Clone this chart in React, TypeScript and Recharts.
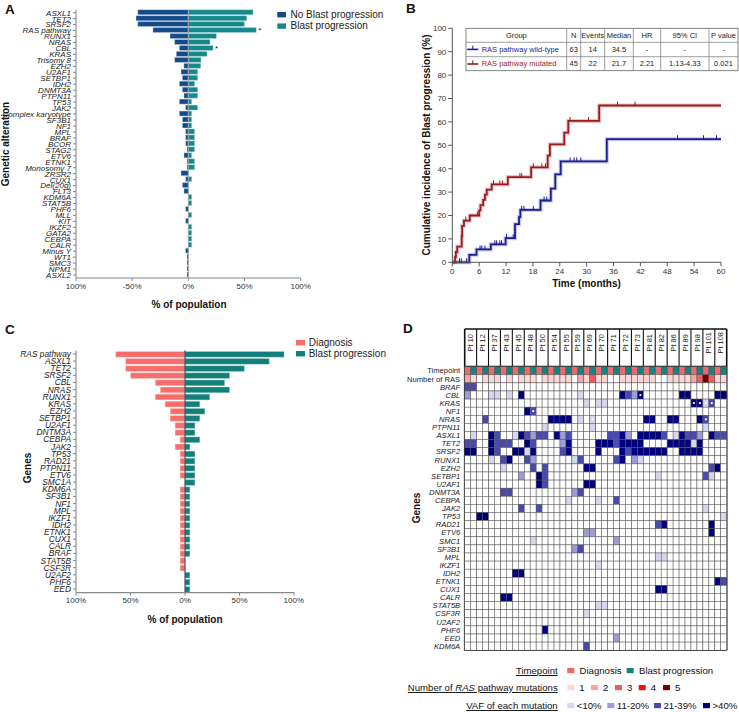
import React from 'react';
import {
  BarChart, Bar, XAxis, YAxis, ReferenceLine, LabelList,
  ComposedChart, Line, Scatter, ScatterChart,
} from 'recharts';

const FONT = '"Liberation Sans", Arial, Helvetica, sans-serif';

// ---------- Panel A: genetic alterations by outcome ----------
const alterationsA = ['ASXL1', 'TET2', 'SRSF2', 'RAS pathway', 'RUNX1', 'NRAS', 'CBL', 'KRAS', 'Trisomy 8', 'EZH2', 'U2AF1', 'SETBP1', 'IDH2', 'DNMT3A', 'PTPN11', 'TP53', 'JAK2', 'Complex karyotype', 'SF3B1', 'NF1', 'MPL', 'BRAF', 'BCOR', 'STAG2', 'ETV6', 'ETNK1', 'Monosomy 7', 'ZRSR2', 'CUX1', 'Del(20q)', 'FLT3', 'KDM6A', 'STAT5B', 'PHF6', 'MLL', 'KIT', 'IKZF2', 'GATA2', 'CEBPA', 'CALR', 'Minus Y', 'WT1', 'SMC3', 'NPM1', 'ASXL2'];
const noBlastPct = [45, 46.6, 45, 31.5, 16.3, 12.2, 8, 10.7, 12.2, 3.9, 6.5, 5.3, 8, 5.3, 3.9, 8, 2.4, 8, 5.3, 5.3, 2.4, 2.4, 2.4, 1.2, 3.9, 1.2, 1.2, 6.5, 2.4, 5.3, 3.9, 0, 0, 2.4, 0, 2.4, 0, 0, 0, 0, 2.4, 1.2, 1.2, 1.2, 1.2];
const blastPct = [57.6, 52, 50, 60.5, 25, 19.3, 22, 16.6, 11.3, 11, 8.3, 8.3, 5.6, 8.3, 8.3, 3, 8.3, 3, 3, 3, 5.6, 5.6, 5.6, 5.6, 3, 5.6, 5.6, 0, 3, 0, 0, 3, 3, 0, 3, 0, 3, 3, 3, 3, 0, 0, 0, 0, 0];
const significantA = ['RAS pathway', 'CBL'];

// ---------- Panel B: cumulative incidence ----------
const wildTypeSteps = [
  [0, 0], [3.8, 3.2], [5.4, 5.5], [8.6, 7.7], [11.9, 10.3], [14.0, 16.3], [14.9, 19.3],
  [15.2, 22.4], [19.7, 26.4], [22.0, 31.5], [23.0, 37.6], [24.2, 43.1], [34.5, 52.6], [60, 52.6],
];
const mutatedSteps = [
  [0, 0], [0.6, 2.2], [0.8, 4.4], [1.1, 6.7], [2.1, 11.1], [2.2, 15.6], [2.6, 17.8], [3.9, 20.0],
  [6.0, 22.2], [6.3, 24.4], [6.9, 26.7], [7.3, 28.9], [7.7, 31.1], [8.8, 33.3], [12.4, 36.4],
  [17.6, 40.6], [21.3, 45.6], [21.8, 50.4], [25.0, 55.4], [25.9, 60.4], [32.8, 67.0], [60, 67.0],
];
const wildTypeCensor = [1.6, 2.0, 3.2, 6.2, 6.6, 7.3, 9.5, 9.9, 10.6, 11.0, 12.1, 13.6, 15.5, 16.0, 18.1, 20.5, 21.1, 26.3, 27.2, 27.8, 28.7, 50.3, 56.1, 59.0];
const mutatedCensor = [3.0, 5.6, 9.2, 10.6, 11.2, 15.1, 15.5, 18.1, 20.0, 20.8, 26.3, 30.4, 36.9, 40.8];
const tableHeader = ['Group', 'N', 'Events', 'Median', 'HR', '95% CI', 'P value'];
const tableWildType = ['RAS pathway wild-type', '63', '14', '34.5', '-', '-', '-'];
const tableMutated = ['RAS pathway mutated', '45', '22', '21.7', '2.21', '1.13-4.33', '0.021'];

// ---------- Panel C: diagnosis vs blast progression ----------
const genesC = ['RAS pathway', 'ASXL1', 'TET2', 'SRSF2', 'CBL', 'NRAS', 'RUNX1', 'KRAS', 'EZH2', 'SETBP1', 'U2AF1', 'DNTM3A', 'CEBPA', 'JAK2', 'TP53', 'RAD21', 'PTPN11', 'ETV6', 'SMC1A', 'KDM6A', 'SF3B1', 'NF1', 'MPL', 'IKZF1', 'IDH2', 'ETNK1', 'CUX1', 'CALR', 'BRAF', 'STAT5B', 'CSF3R', 'U2AF2', 'PHF6', 'EED'];
const diagnosisPct = [63.6, 54.5, 54.5, 50, 27.3, 22.7, 27.3, 18.2, 13.6, 13.6, 9.1, 9.1, 4.5, 9.1, 4.5, 4.5, 4.5, 4.5, 0, 4.5, 4.5, 4.5, 4.5, 4.5, 4.5, 4.5, 4.5, 4.5, 4.5, 4.5, 4.5, 0, 0, 0];
const progressionPct = [90.9, 77.3, 54.5, 40.9, 36.4, 40.9, 22.7, 13.6, 18.2, 13.6, 9.1, 9.1, 13.6, 4.5, 9.1, 9.1, 9.1, 9.1, 9.1, 4.5, 4.5, 4.5, 4.5, 4.5, 4.5, 4.5, 4.5, 4.5, 4.5, 0, 0, 4.5, 4.5, 4.5];

// ---------- Panel D: paired samples heatmap ----------
const patients = ['Pt 10', 'Pt 12', 'Pt 37', 'Pt 43', 'Pt 45', 'Pt 48', 'Pt 50', 'Pt 54', 'Pt 55', 'Pt 59', 'Pt 69', 'Pt 70', 'Pt 71', 'Pt 72', 'Pt 73', 'Pt 81', 'Pt 82', 'Pt 86', 'Pt 89', 'Pt 98', 'Pt 101', 'Pt 108'];
const heatGenes = ['BRAF', 'CBL', 'KRAS', 'NF1', 'NRAS', 'PTPN11', 'ASXL1', 'TET2', 'SRSF2', 'RUNX1', 'EZH2', 'SETBP1', 'U2AF1', 'DNMT3A', 'CEBPA', 'JAK2', 'TP53', 'RAD21', 'ETV6', 'SMC1', 'SF3B1', 'MPL', 'IKZF1', 'IDH2', 'ETNK1', 'CUX1', 'CALR', 'STAT5B', 'CSF3R', 'U2AF2', 'PHF6', 'EED', 'KDM6A'];
// VAF class per column (diagnosis, progression per patient): 0 none, 1 <10%, 2 11-20%, 3 21-39%, 4 >40%
const vafRows = [
  '33 00 00 00 00 00 00 00 00 00 00 00 00 00 00 00 00 00 00 00 00 00',
  '20 00 11 01 04 00 00 00 00 01 00 00 00 43 24 00 00 00 44 00 00 44',
  '00 00 00 00 00 00 00 00 00 00 10 11 00 00 00 00 00 00 00 44 13 00',
  '00 00 00 00 00 43 00 00 00 00 00 00 00 00 00 00 00 00 00 00 00 00',
  '00 03 00 00 00 00 00 44 44 01 01 00 00 00 00 44 00 44 00 04 30 00',
  '00 00 00 00 00 00 01 00 00 00 01 00 00 00 00 00 00 00 00 00 10 00',
  '01 00 43 00 14 32 33 04 23 00 00 00 33 42 04 44 43 01 43 32 04 33',
  '33 00 43 33 00 43 00 00 24 00 00 44 43 44 44 00 00 44 44 14 00 00',
  '44 00 43 00 44 14 00 00 34 00 00 40 00 43 44 44 44 00 44 44 00 00',
  '00 00 10 34 00 32 00 00 00 13 00 00 03 40 21 00 00 00 00 00 00 00',
  '00 00 00 10 00 03 03 00 00 00 44 00 00 00 00 00 00 00 00 00 03 40',
  '00 00 00 00 02 00 43 00 00 00 00 00 00 00 00 00 10 00 00 00 31 00',
  '00 00 00 00 00 00 43 00 00 00 44 00 00 00 00 00 00 00 00 00 00 00',
  '00 00 00 33 00 00 00 00 00 23 00 00 00 00 00 00 00 00 00 00 00 00',
  '00 00 00 00 00 00 00 00 01 00 00 10 03 00 00 00 00 00 00 00 00 00',
  '00 00 00 00 03 00 30 00 00 00 00 00 00 00 00 00 00 00 00 00 10 00',
  '00 44 00 00 00 00 00 00 00 00 00 00 00 00 00 00 00 00 00 00 00 01',
  '00 00 00 00 00 00 00 00 00 00 00 00 00 00 00 00 34 00 00 00 04 00',
  '00 00 00 00 00 00 00 00 00 00 22 00 00 00 00 00 00 00 00 00 04 00',
  '00 00 00 00 00 01 00 00 00 00 00 00 02 00 00 00 00 00 00 00 00 00',
  '00 00 00 00 00 00 00 00 00 23 00 00 00 00 00 00 00 00 00 00 00 00',
  '00 00 00 00 00 00 00 00 00 00 00 00 00 00 00 00 11 00 00 00 00 00',
  '00 00 00 00 00 00 00 00 00 00 00 10 00 00 00 00 00 00 00 00 00 00',
  '00 00 00 00 44 00 00 00 00 00 00 00 00 00 00 00 00 00 00 00 00 00',
  '00 00 00 00 00 00 00 00 00 00 00 00 00 00 00 00 00 00 00 00 00 43',
  '00 00 00 00 00 00 00 00 00 00 00 00 00 00 00 00 44 00 00 00 00 00',
  '00 00 00 44 00 00 00 00 00 00 00 00 00 00 00 00 00 00 00 00 00 00',
  '00 00 00 00 00 00 00 00 00 00 00 11 00 00 00 00 00 00 00 00 00 00',
  '00 00 00 00 00 00 00 00 00 00 10 00 00 00 00 00 00 00 00 00 00 00',
  '00 00 00 00 00 00 00 00 00 00 00 00 00 00 00 00 00 00 00 00 00 00',
  '00 00 00 00 00 00 04 00 00 00 00 00 00 00 00 00 00 00 00 00 00 00',
  '00 00 00 00 00 00 00 00 00 00 00 00 02 00 00 00 00 00 00 00 00 00',
  '00 00 00 00 00 00 00 00 00 00 30 00 00 00 00 00 00 00 00 00 00 00',
];
const rasCounts = '21 01 11 01 01 11 01 11 11 02 13 11 00 11 11 11 00 11 11 23 53 11';
const mutationDots: [string, number][] = [['CBL', 29], ['KRAS', 38], ['KRAS', 39], ['KRAS', 40], ['KRAS', 41], ['NF1', 11], ['NRAS', 21], ['NRAS', 40]];

const BLUE_A = '#124a8a';
const TEAL = '#15898a';
const SALMON = '#f86c6c';
const TEAL_C = '#127f7b';
const RED_KM = '#9e1b1f';
const BLUE_KM = '#1b1f90';
const VAF_COLORS = ['#ffffff', '#d6d6ee', '#9d9dd3', '#4a4aae', '#00007c'];
const RAS_COLORS = ['#ffffff', '#fdd6d6', '#f9a6a6', '#f45c5c', '#ff0a0a', '#7c0000'];
const TIME_COLORS = ['#f26767', '#138580'];

const rowLabels = ['Timepoint', 'Number of RAS', ...heatGenes];

function GeneTick({ x, y, payload, size }: any) {
  return (
    <text x={x} y={y} dy={size * 0.36} textAnchor="end" fontSize={size} fontStyle="italic" fill="#222" fontFamily={FONT}>
      {payload.value}
    </text>
  );
}

const axisText = { fontSize: 8, fill: '#333', fontFamily: FONT };

function PanelA() {
  const data = alterationsA.map((name, i) => ({
    name,
    noBlast: -noBlastPct[i],
    blast: blastPct[i],
    star: significantA.includes(name) ? '*' : '',
  }));
  return (
    <BarChart width={311} height={320} data={data} layout="vertical" stackOffset="sign"
      margin={{ top: 9.7, right: 10.3, bottom: 0, left: 0 }}>
      <XAxis type="number" domain={[-100, 100]} ticks={[-100, -50, 0, 50, 100]} height={42}
        tickFormatter={(v: number) => (v === -100 ? '100%' : `${v}%`)}
        tick={axisText} tickSize={3} axisLine={{ stroke: '#888', strokeWidth: 1.2 }} tickLine={{ stroke: '#888' }} />
      <YAxis type="category" dataKey="name" width={76} interval={0} tickSize={3}
        tick={(p: any) => <GeneTick {...p} size={8} />}
        axisLine={{ stroke: '#aaa', strokeWidth: 1.5 }} tickLine={{ stroke: '#888' }} />
      <ReferenceLine x={0} stroke="#999" strokeWidth={0.8} />
      <Bar dataKey="noBlast" stackId="a" fill={BLUE_A} barSize={5} stroke="#c9d6e6" strokeWidth={0.4} isAnimationActive={false} />
      <Bar dataKey="blast" stackId="a" fill={TEAL} barSize={5} stroke="#c4e2e2" strokeWidth={0.4} isAnimationActive={false}>
        <LabelList dataKey="star" position="right" offset={2} style={{ fontSize: 8, fill: '#222', fontFamily: FONT }} />
      </Bar>
    </BarChart>
  );
}

function PanelC() {
  const data = genesC.map((name, i) => ({ name, diagnosis: -diagnosisPct[i], progression: progressionPct[i] }));
  return (
    <BarChart width={304} height={320} data={data} layout="vertical" stackOffset="sign"
      margin={{ top: 30.4, right: 10, bottom: 0, left: 0 }}>
      <XAxis type="number" domain={[-100, 100]} ticks={[-100, -50, 0, 50, 100]} height={47.4}
        tickFormatter={(v: number) => `${Math.abs(v)}%`}
        tick={axisText} tickSize={3} axisLine={{ stroke: '#888', strokeWidth: 1.2 }} tickLine={{ stroke: '#888' }} />
      <YAxis type="category" dataKey="name" width={76} interval={0} tickSize={3}
        tick={(p: any) => <GeneTick {...p} size={8.4} />}
        axisLine={{ stroke: '#aaa', strokeWidth: 1.5 }} tickLine={{ stroke: '#888' }} />
      <Bar dataKey="diagnosis" stackId="c" fill={SALMON} barSize={5.8} stroke="#fde0e0" strokeWidth={0.4} isAnimationActive={false} />
      <Bar dataKey="progression" stackId="c" fill={TEAL_C} barSize={5.8} stroke="#c4e0df" strokeWidth={0.4} isAnimationActive={false} />
      <ReferenceLine x={0} stroke="#333" strokeWidth={1} />
    </BarChart>
  );
}

function valueAt(steps: number[][], t: number) {
  let v = 0;
  for (const [st, sv] of steps) if (st <= t) v = sv;
  return v;
}

function CensorMark(color: string) {
  return (props: any) => (
    <line x1={props.cx} x2={props.cx} y1={props.cy} y2={props.cy - 4} stroke={color} strokeWidth={1} />
  );
}

function PanelB() {
  const wt = wildTypeSteps.map(([t, v]) => ({ t, v }));
  const mt = mutatedSteps.map(([t, v]) => ({ t, v }));
  const wtC = wildTypeCensor.map((t) => ({ t, v: valueAt(wildTypeSteps, t) }));
  const mtC = mutatedCensor.map((t) => ({ t, v: valueAt(mutatedSteps, t) }));
  return (
    <ComposedChart width={369} height={300} margin={{ top: 28.3, right: 18, bottom: 0, left: 0 }}>
      <XAxis type="number" dataKey="t" domain={[0, 60]} ticks={[0, 6, 12, 18, 24, 30, 36, 42, 48, 54, 60]}
        height={37.7} tick={axisText} tickSize={4} axisLine={{ stroke: '#555' }} tickLine={{ stroke: '#555' }} />
      <YAxis type="number" dataKey="v" domain={[0, 100]} ticks={[0, 10, 20, 30, 40, 50, 60, 70, 80, 90, 100]}
        width={82.3} tick={axisText} tickSize={4} axisLine={{ stroke: '#555' }} tickLine={{ stroke: '#555' }} />
      <Line data={wt} dataKey="v" type="stepAfter" stroke={BLUE_KM} strokeOpacity={0.25} strokeWidth={4} dot={false} isAnimationActive={false} />
      <Line data={mt} dataKey="v" type="stepAfter" stroke={RED_KM} strokeOpacity={0.25} strokeWidth={4} dot={false} isAnimationActive={false} />
      <Line data={wt} dataKey="v" type="stepAfter" stroke={BLUE_KM} strokeWidth={1.8} dot={false} isAnimationActive={false} />
      <Line data={mt} dataKey="v" type="stepAfter" stroke={RED_KM} strokeWidth={1.8} dot={false} isAnimationActive={false} />
      <Scatter data={wtC} dataKey="v" shape={CensorMark(BLUE_KM)} isAnimationActive={false} />
      <Scatter data={mtC} dataKey="v" shape={CensorMark(RED_KM)} isAnimationActive={false} />
    </ComposedChart>
  );
}

const CELL_W = 262 / 44;
const CELL_H = 8.1;

function HeatCell(props: any) {
  const { cx, cy, payload } = props;
  return (
    <g>
      <rect x={cx - CELL_W / 2} y={cy - CELL_H / 2} width={CELL_W} height={CELL_H} fill={payload.fill} stroke="#555" strokeWidth={0.5} />
      {payload.dot && <circle cx={cx} cy={cy} r={1.1} fill="#fff" />}
    </g>
  );
}

function HeaderLabel(props: any) {
  const { cx, cy, payload } = props;
  return (
    <text x={cx} y={cy} dy="0.35em" transform={`rotate(-90 ${cx} ${cy})`} textAnchor="middle" fontSize={7.4} fill="#222" fontFamily={FONT}>
      {payload.label}
    </text>
  );
}

function RowTick({ x, y, payload }: any) {
  const idx = Math.floor(payload.value);
  return (
    <text x={x} y={y} dy={2.7} textAnchor="end" fontSize={7.6} fontStyle={idx >= 2 ? 'italic' : 'normal'} fill="#222" fontFamily={FONT}>
      {rowLabels[idx]}
    </text>
  );
}

function PanelD() {
  const cells: any[] = [];
  const ras = rasCounts.replace(/ /g, '');
  for (let c = 0; c < 44; c++) {
    cells.push({ x: c + 0.5, y: 0.5, fill: TIME_COLORS[c % 2] });
    cells.push({ x: c + 0.5, y: 1.5, fill: RAS_COLORS[Number(ras[c])] });
  }
  vafRows.forEach((row, g) => {
    const vals = row.replace(/ /g, '');
    for (let c = 0; c < 44; c++) {
      const dot = mutationDots.some(([gene, col]) => gene === heatGenes[g] && col === c);
      cells.push({ x: c + 0.5, y: g + 2.5, fill: VAF_COLORS[Number(vals[c])], dot });
    }
  });
  const headers = patients.map((label, p) => ({ x: 2 * p + 1, y: -2.95, label }));
  const rowTicks = rowLabels.map((_, i) => i + 0.5);
  const patientEdges = Array.from({ length: 23 }, (_, i) => i * 2);
  return (
    <ScatterChart width={369} height={340} margin={{ top: 9, right: 12.3, bottom: 9.8, left: 0 }}>
      <XAxis type="number" dataKey="x" domain={[0, 44]} hide />
      <YAxis type="number" dataKey="y" domain={[-4.65, 35]} reversed ticks={rowTicks} interval={0}
        width={94.7} tick={RowTick} tickSize={3} tickMargin={1.5} axisLine={false} tickLine={false} />
      <Scatter data={cells} shape={HeatCell} isAnimationActive={false} />
      <Scatter data={headers} shape={HeaderLabel} isAnimationActive={false} />
      {patientEdges.map((e) => (
        <ReferenceLine key={e} x={e} stroke="#111" strokeWidth={e === 0 || e === 44 ? 1.6 : 1.1} />
      ))}
      <ReferenceLine y={-4.65} stroke="#111" strokeWidth={1.6} />
      <ReferenceLine y={0} stroke="#111" strokeWidth={1.6} />
      <ReferenceLine y={35} stroke="#111" strokeWidth={1.6} />
    </ScatterChart>
  );
}

function Overlay() {
  const tCols = [466, 566.7, 580.7, 604.7, 633.3, 660.7, 709, 738];
  const tRows = [28.3, 42.3, 56.7, 70.7];
  const tableRows = [tableHeader, tableWildType, tableMutated];
  const rowColors = ['#333', BLUE_KM, RED_KM];
  const txt = { fontFamily: FONT, fill: '#111' } as any;
  const bold = { ...txt, fontWeight: 'bold', fontSize: 10 } as any;
  const leg = { ...txt, fontSize: 9.6 } as any;
  return (
    <svg width={739} height={712} style={{ position: 'absolute', left: 0, top: 0, pointerEvents: 'none' }}>
      {/* panel letters */}
      <text x={5} y={14} style={{ ...txt, fontWeight: 'bold', fontSize: 13.5 }}>A</text>
      <text x={406} y={13} style={{ ...txt, fontWeight: 'bold', fontSize: 13.5 }}>B</text>
      <text x={5} y={334} style={{ ...txt, fontWeight: 'bold', fontSize: 13.5 }}>C</text>
      <text x={403} y={333} style={{ ...txt, fontWeight: 'bold', fontSize: 13.5 }}>D</text>

      {/* panel A titles & legend */}
      <text transform="rotate(-90)" x={-144} y={9} textAnchor="middle" style={bold}>Genetic alteration</text>
      <text x={189} y={308} textAnchor="middle" style={bold}>% of population</text>
      <rect x={277.3} y={12} width={8.7} height={5.4} fill={BLUE_A} />
      <text x={290.5} y={18} style={{ ...txt, fontSize: 10, fill: '#222' }}>No Blast progression</text>
      <rect x={277.3} y={23.4} width={8.7} height={5.4} fill={TEAL} />
      <text x={290.5} y={29.4} style={{ ...txt, fontSize: 10, fill: '#222' }}>Blast progression</text>

      {/* panel C titles & legend */}
      <text transform="rotate(-90)" x={-468} y={31} textAnchor="middle" style={bold}>Genes</text>
      <text x={185} y={623} textAnchor="middle" style={bold}>% of population</text>
      <rect x={296} y={340} width={9} height={5.4} fill={SALMON} />
      <text x={308.7} y={346.2} style={{ ...txt, fontSize: 10, fill: '#222' }}>Diagnosis</text>
      <rect x={296} y={351} width={9} height={5.4} fill={TEAL_C} />
      <text x={308.7} y={357.2} style={{ ...txt, fontSize: 10, fill: '#222' }}>Blast progression</text>

      {/* panel B titles */}
      <text transform="rotate(-90)" x={-145} y={429.5} textAnchor="middle" style={bold}>Cumulative incidence of Blast progression (%)</text>
      <text x={586.5} y={286.5} textAnchor="middle" style={bold}>Time (months)</text>

      {/* panel B table */}
      <rect x={tCols[0]} y={tRows[0]} width={tCols[7] - tCols[0]} height={tRows[3] - tRows[0]} fill="#fff" stroke="#666" strokeWidth={0.8} />
      {tCols.slice(1, 7).map((x) => <line key={x} x1={x} x2={x} y1={tRows[0]} y2={tRows[3]} stroke="#777" strokeWidth={0.7} />)}
      {tRows.slice(1, 3).map((y) => <line key={y} x1={tCols[0]} x2={tCols[7]} y1={y} y2={y} stroke="#777" strokeWidth={0.7} />)}
      {tableRows.map((row, r) => row.map((cell, c) => {
        const yMid = (tRows[r] + tRows[r + 1]) / 2 + 2.6;
        if (c === 0 && r > 0) {
          return <text key={`${r}-${c}`} x={481.7} y={yMid} style={{ ...txt, fontSize: 7.5, fill: rowColors[r] }}>{cell}</text>;
        }
        return (
          <text key={`${r}-${c}`} x={(tCols[c] + tCols[c + 1]) / 2} y={yMid} textAnchor="middle" style={{ ...txt, fontSize: 7.5, fill: '#222' }}>{cell}</text>
        );
      }))}
      <line x1={467.3} x2={478.3} y1={49.4} y2={49.4} stroke={BLUE_KM} strokeWidth={1.6} />
      <line x1={472.8} x2={472.8} y1={49.4} y2={45.6} stroke={BLUE_KM} strokeWidth={1} />
      <line x1={467.3} x2={478.3} y1={64} y2={64} stroke={RED_KM} strokeWidth={1.6} />
      <line x1={472.8} x2={472.8} y1={64} y2={60.2} stroke={RED_KM} strokeWidth={1} />

      {/* panel D titles & legend */}
      <text transform="rotate(-90)" x={-508} y={420} textAnchor="middle" style={bold}>Genes</text>

      <text x={557.7} y={674} textAnchor="end" style={{ ...leg, textDecoration: 'underline' }}>Timepoint</text>
      <rect x={567.3} y={668} width={7} height={5.2} fill={TIME_COLORS[0]} />
      <text x={579.5} y={674} style={leg}>Diagnosis</text>
      <rect x={626.7} y={668} width={7} height={5.2} fill={TIME_COLORS[1]} />
      <text x={639} y={674} style={leg}>Blast progression</text>

      <text x={557.7} y={691} textAnchor="end" style={{ ...leg, textDecoration: 'underline' }}>
        Number of <tspan fontStyle="italic">RAS</tspan> pathway mutations
      </text>
      {[567.3, 591, 615, 638.7, 663].map((x, i) => (
        <g key={x}>
          <rect x={x} y={685} width={7} height={5.2} fill={RAS_COLORS[i + 1]} />
          <text x={x + 12} y={691} style={leg}>{i + 1}</text>
        </g>
      ))}

      <text x={557.7} y={709} textAnchor="end" style={{ ...leg, textDecoration: 'underline' }}>VAF of each mutation</text>
      {[[567.3, '<10%'], [607.3, '11-20%'], [654, '21-39%'], [703, '>40%']].map(([x, label], i) => (
        <g key={label as string}>
          <rect x={x as number} y={703} width={7} height={5.2} fill={VAF_COLORS[i + 1]} />
          <text x={(x as number) + 9.5} y={709} style={leg}>{label}</text>
        </g>
      ))}
    </svg>
  );
}

export default function App() {
  return (
    <div style={{ position: 'absolute', left: 0, top: 0, width: 739, height: 712, background: '#fff', fontFamily: FONT, overflow: 'hidden' }}>
      <div style={{ position: 'absolute', left: 0, top: 0 }}><PanelA /></div>
      <div style={{ position: 'absolute', left: 370, top: 0 }}><PanelB /></div>
      <div style={{ position: 'absolute', left: 0, top: 320 }}><PanelC /></div>
      <div style={{ position: 'absolute', left: 370, top: 320 }}><PanelD /></div>
      <Overlay />
    </div>
  );
}
